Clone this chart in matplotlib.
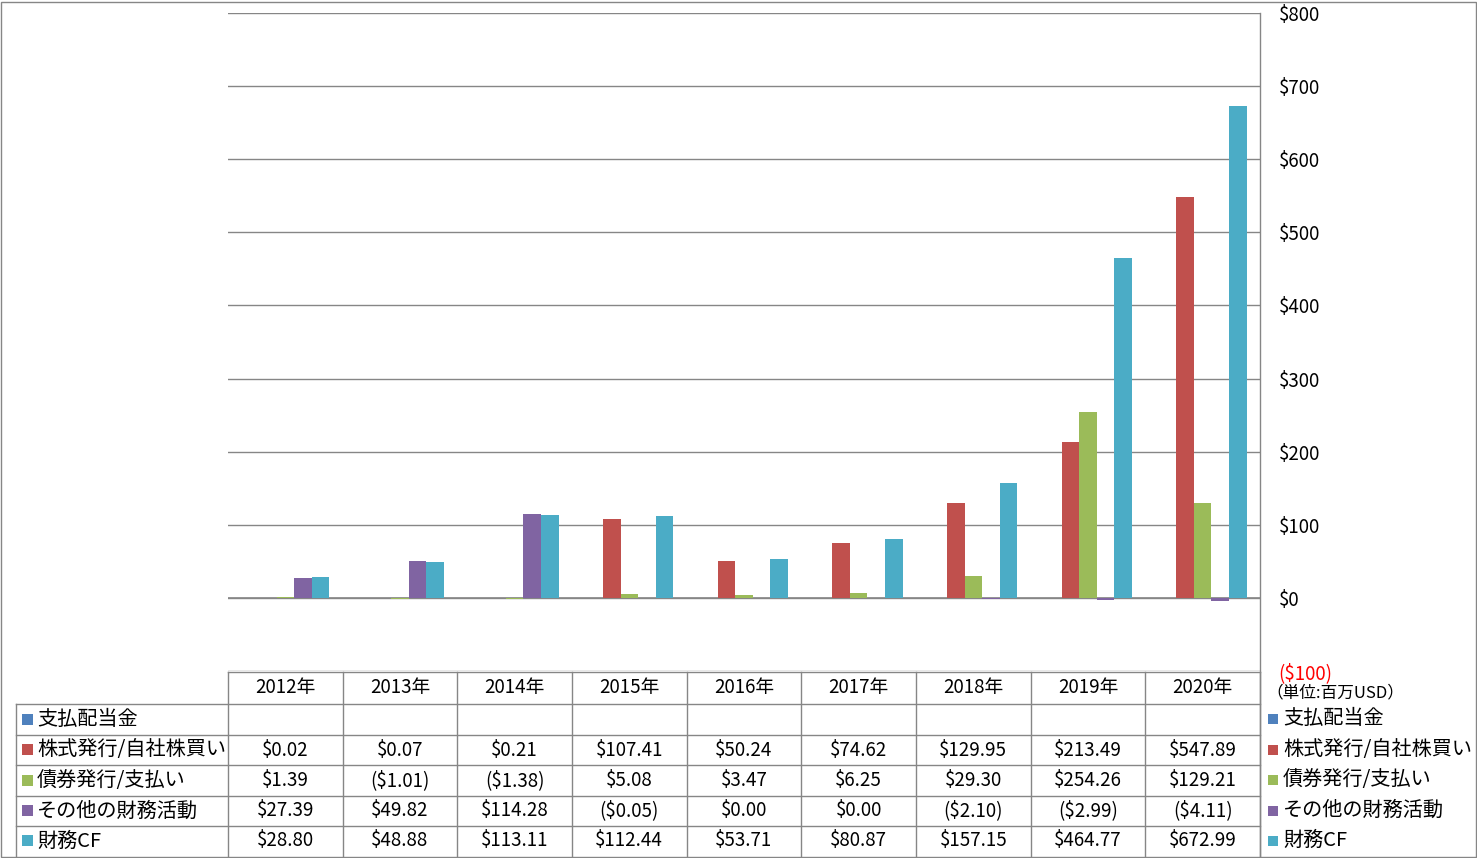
import numpy as np
import matplotlib
matplotlib.use("Agg")
import matplotlib.pyplot as plt
from matplotlib.lines import Line2D
from matplotlib.patches import Rectangle
from matplotlib.transforms import blended_transform_factory

plt.rcParams['font.family'] = ['Noto Sans CJK JP', 'DejaVu Sans']

years = ["2012年", "2013年", "2014年", "2015年", "2016年", "2017年", "2018年", "2019年", "2020年"]
series_names = ["支払配当金", "株式発行/自社株買い", "債券発行/支払い", "その他の財務活動", "財務CF"]
dividends = [np.nan] * 9
stock = [0.02, 0.07, 0.21, 107.41, 50.24, 74.62, 129.95, 213.49, 547.89]
debt = [1.39, -1.01, -1.38, 5.08, 3.47, 6.25, 29.30, 254.26, 129.21]
other = [27.39, 49.82, 114.28, -0.05, 0.00, 0.00, -2.10, -2.99, -4.11]
fin_cf = [28.80, 48.88, 113.11, 112.44, 53.71, 80.87, 157.15, 464.77, 672.99]
colors = ["#4F81BD", "#C0504D", "#9BBB59", "#8064A2", "#4BACC6"]
yticks = [-100, 0, 100, 200, 300, 400, 500, 600, 700, 800]
unit_label = "（単位:百万USD）"

all_series = [dividends, stock, debt, other, fin_cf]

W, H = 1477, 858
fig = plt.figure(figsize=(W / 100, H / 100), dpi=100)
fig.patch.set_facecolor("white")

def fx(px):
    return px / W

def fy(py):
    return 1 - py / H

grid_c = "#868686"
ax_left, ax_right, ax_top, ax_bot = 228, 1260, 13, 671
ax = fig.add_axes([fx(ax_left), fy(ax_bot), fx(ax_right) - fx(ax_left), fy(ax_top) - fy(ax_bot)])
ax.set_xlim(-0.5, 8.5)
ax.set_ylim(-100, 800)
for s in ax.spines.values():
    s.set_visible(False)

n = len(all_series)
w = 1 / 6.5
x = np.arange(len(years))
for k, (vals, c) in enumerate(zip(all_series, colors)):
    v = np.array(vals, dtype=float)
    v = np.where(np.isnan(v), 0, v)
    ax.bar(x + (k - (n - 1) / 2) * w, v, width=w, color=c, zorder=3, linewidth=0)

ax.set_yticks(yticks)
ax.yaxis.tick_right()
ax.set_yticklabels([("($%d)" % -t) if t < 0 else ("$%d" % t) for t in yticks], fontsize=13.5)
ax.tick_params(axis='y', length=0, pad=13.5)
ax.tick_params(axis='x', length=0, labelbottom=False)
for lab, t in zip(ax.get_yticklabels(), yticks):
    if t < 0:
        lab.set_color("red")
ax.set_xticks([])
ax.grid(axis='y', color=grid_c, linewidth=1.0, zorder=0)
ax.axhline(0, color=grid_c, linewidth=1.2, zorder=2.5)

# table lines
bt = blended_transform_factory(ax.transData, fig.transFigure)
lw = 1.0
row_lines = [672, 704, 735, 765, 796, 826]
table_bottom = 856
fig.add_artist(Line2D([-0.5, 8.5], [fy(672), fy(672)], transform=bt, color=grid_c, lw=lw))
for ry in row_lines[1:]:
    fig.add_artist(Line2D([fx(16), fx(1260)], [fy(ry), fy(ry)], transform=fig.transFigure, color=grid_c, lw=lw))
for i in range(len(years) + 1):
    fig.add_artist(Line2D([i - 0.5, i - 0.5], [fy(672), fy(table_bottom)], transform=bt, color=grid_c, lw=lw))
fig.add_artist(Line2D([fx(1260), fx(1260)], [fy(13), fy(table_bottom)], transform=fig.transFigure, color=grid_c, lw=lw))
fig.add_artist(Line2D([fx(16), fx(16)], [fy(704), fy(table_bottom)], transform=fig.transFigure, color=grid_c, lw=lw))

fs = 13.5
fs_lab = 14.5
header_y = 688
for i, yr in enumerate(years):
    fig.text(i, fy(header_y), yr, transform=bt, ha='center', va='center', fontsize=fs)

def fmt(v):
    if np.isnan(v):
        return ""
    if v < 0:
        return "(${:,.2f})".format(-v)
    return "${:,.2f}".format(v)

row_centers = [719.5, 750, 780.5, 811, 841]
for r, (name, vals, c) in enumerate(zip(series_names, all_series, colors)):
    yc = row_centers[r]
    fig.add_artist(Rectangle((fx(22), fy(yc + 5)), fx(11), 11 / H, transform=fig.transFigure,
                             facecolor=c, edgecolor='none'))
    fig.text(fx(37), fy(yc), name, ha='left', va='center', fontsize=fs_lab)
    for i, v in enumerate(vals):
        fig.text(i, fy(yc), fmt(v), transform=bt, ha='center', va='center', fontsize=fs)
    fig.add_artist(Rectangle((fx(1268), fy(yc + 4.5)), fx(10), 10 / H, transform=fig.transFigure,
                             facecolor=c, edgecolor='none'))
    fig.text(fx(1283), fy(yc - 1), name, ha='left', va='center', fontsize=fs_lab)

fig.text(fx(1266), fy(693), unit_label, ha='left', va='center', fontsize=12)

fig.add_artist(Rectangle((0.5 / W, 1.5 / H), 1 - 2 / W, 1 - 3 / H, transform=fig.transFigure,
                         facecolor='none', edgecolor=grid_c, lw=1.0))

fig.savefig("out.png", dpi=100)
